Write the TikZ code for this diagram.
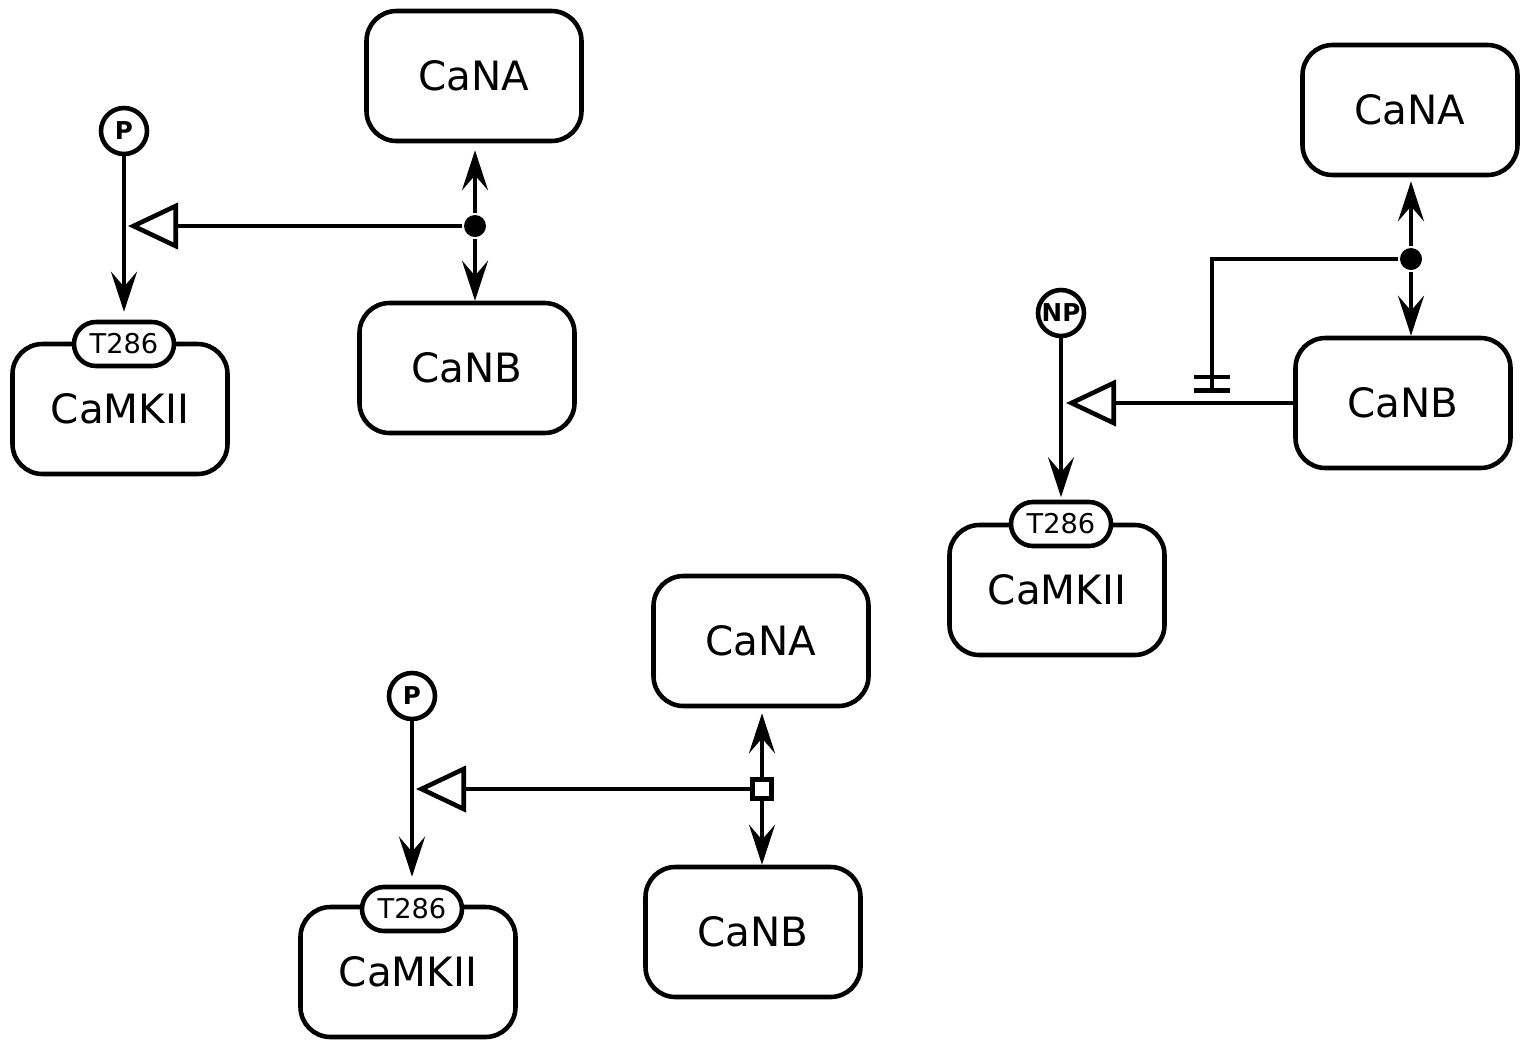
\documentclass[tikz,border=0pt]{standalone}
\usepackage{fontspec}
\setmainfont{DejaVu Sans}
\usetikzlibrary{arrows.meta,positioning}

\begin{document}
\begin{tikzpicture}[
  line width=2.6pt,
  species/.style={
    draw,
    rounded corners=.6cm,
    minimum width=4.3cm,
    minimum height=2.6cm,
    font=\fontsize{23}{26}\selectfont
  },
  site/.style={
    draw,fill=white,
    rounded corners=.44cm,
    minimum width=2.0cm,
    minimum height=.88cm,
    inner sep=0pt,
    font=\fontsize{15.5}{17}\selectfont
  },
  pstate/.style={
    draw,circle,fill=white,
    minimum size=.92cm,
    inner sep=0pt,
    font=\bfseries\fontsize{14}{16}\selectfont
  },
  assoc/.style={circle,fill,minimum size=.44cm,inner sep=0pt},
  process/.style={draw,fill=white,minimum size=.38cm,inner sep=0pt},
  produce/.style={-{Stealth[length=.8cm,width=.52cm,inset=.3cm]}},
  stimul/.style={-{Triangle[open,length=1cm,width=.92cm]}},
  absinhib/.style={-{Bar[width=.72cm,sep=.18cm]Bar[width=.72cm]}}
]
\useasboundingbox (0,0) rectangle (30.44,-20.8);

% top left
\node[species] (cana1) at (9.48,-1.52) {CaNA};
\node[species] (canb1) at (9.34,-7.36) {CaNB};
\node[assoc] (dot1) at (9.5,-4.52) {};
\node[species] (camk1) at (2.40,-8.18) {CaMKII};
\node[site] (t1) at (2.48,-6.88) {T286};
\node[pstate] (p1) at (2.48,-2.62) {P};
\coordinate (tip1) at (2.56,-4.52);
\draw[produce,shorten >=.14cm] (dot1) -- (dot1 |- cana1.south);
\draw[produce] (dot1) -- (dot1 |- canb1.north);
\draw[produce,shorten >=.16cm] (p1) -- (t1);
\draw[stimul] (dot1) -- (tip1);

% top right
\node[species] (cana2) at (28.2,-2.2) {CaNA};
\node[species] (canb2) at (28.06,-8.06) {CaNB};
\node[assoc] (dot2) at (28.22,-5.18) {};
\node[species] (camk2) at (21.14,-11.8) {CaMKII};
\node[site] (t2) at (21.22,-10.48) {T286};
\node[pstate] (np2) at (21.22,-6.26) {NP};
\coordinate (tip2) at (21.32,-8.06);
\coordinate (bend2) at (24.24,-5.18);
\draw[produce,shorten >=.08cm] (dot2) -- (dot2 |- cana2.south);
\draw[produce] (dot2) -- (dot2 |- canb2.north);
\draw[produce,shorten >=.05cm] (np2) -- (t2);
\draw[stimul] (canb2.west |- tip2) -- (tip2);
\draw[absinhib,shorten >=.2cm] (dot2) -- (bend2) -- (bend2 |- tip2);

% bottom
\node[species] (cana3) at (15.22,-12.82) {CaNA};
\node[species] (canb3) at (15.06,-18.64) {CaNB};
\node[process] (sq3) at (15.24,-15.78) {};
\node[species] (camk3) at (8.16,-19.44) {CaMKII};
\node[site] (t3) at (8.24,-18.18) {T286};
\node[pstate] (p3) at (8.24,-13.92) {P};
\coordinate (tip3) at (8.32,-15.78);
\draw[produce,shorten >=.1cm] (sq3) -- (sq3 |- cana3.south);
\draw[produce] (sq3) -- (sq3 |- canb3.north);
\draw[produce,shorten >=.16cm] (p3) -- (t3);
\draw[stimul] (sq3) -- (tip3);
\end{tikzpicture}
\end{document}
